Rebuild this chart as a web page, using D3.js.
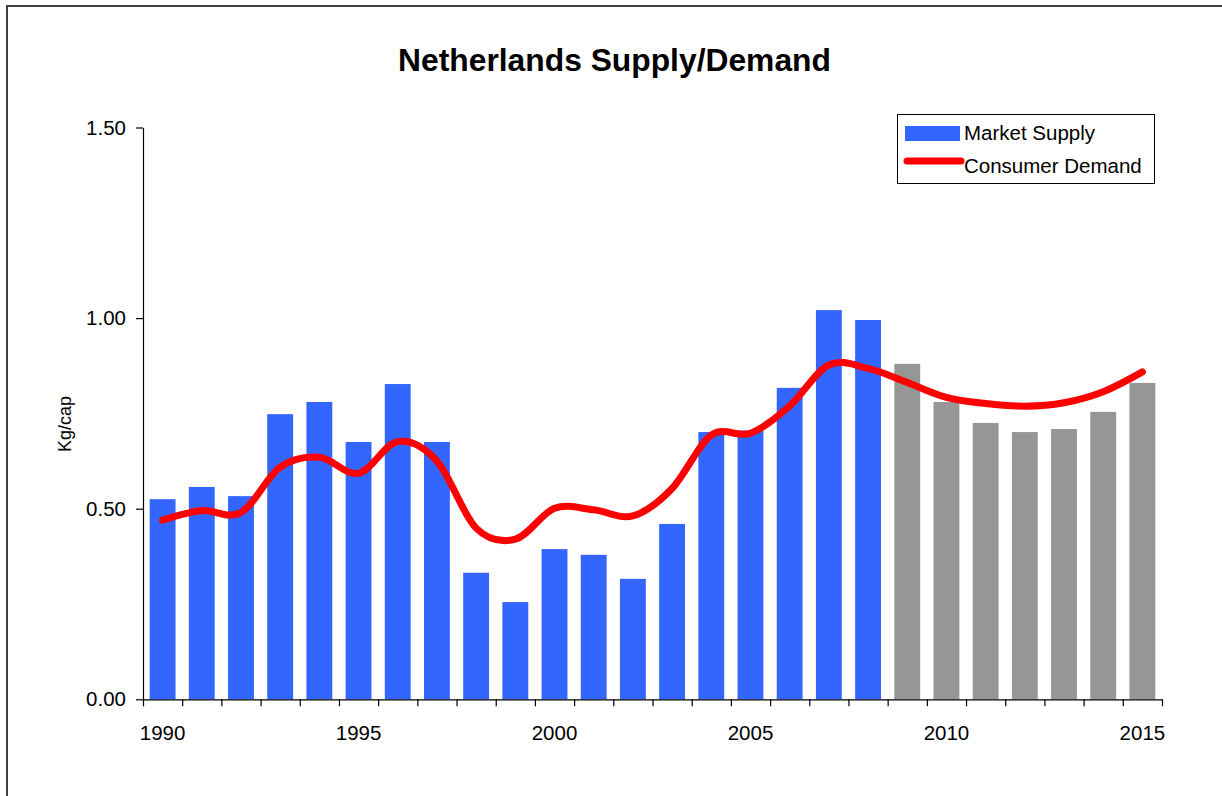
<!DOCTYPE html>
<html>
<head>
<meta charset="utf-8">
<script src="https://cdn.jsdelivr.net/npm/d3@7"></script>
<style>
  html, body { margin: 0; padding: 0; background: #fff; }
  svg { display: block; }
</style>
</head>
<body>
<svg id="chart" width="1222" height="796"></svg>
<script>
// Years on the category axis
const years = [1990, 1991, 1992, 1993, 1994, 1995, 1996, 1997, 1998, 1999, 2000, 2001, 2002,
               2003, 2004, 2005, 2006, 2007, 2008, 2009, 2010, 2011, 2012, 2013, 2014, 2015];

// Market supply (Kg/cap), one bar per year
const marketSupply = [0.525, 0.557, 0.533, 0.748, 0.780, 0.675, 0.827, 0.675, 0.332, 0.255,
                      0.394, 0.379, 0.316, 0.460, 0.701, 0.705, 0.817, 1.021, 0.995, 0.880,
                      0.780, 0.725, 0.701, 0.709, 0.754, 0.830];

// Consumer demand (Kg/cap), drawn as a smoothed line
const consumerDemand = [0.470, 0.495, 0.490, 0.609, 0.635, 0.593, 0.676, 0.625, 0.449, 0.420,
                        0.501, 0.497, 0.481, 0.553, 0.693, 0.698, 0.770, 0.877, 0.868, 0.831,
                        0.792, 0.776, 0.769, 0.778, 0.807, 0.859];

// Bars from this year onwards are projections
const firstProjectedYear = 2009;

// Axis ticks
const yTicks = [0, 0.5, 1.0, 1.5];
const xLabelYears = [1990, 1995, 2000, 2005, 2010, 2015];

const seriesNames = ["Market Supply", "Consumer Demand"];
const titleText = "Netherlands Supply/Demand";
const yAxisTitle = "Kg/cap";

const COLORS = { supply: "#3366FF", projected: "#969696", demand: "#FF0000" };
const FONT = "'Liberation Sans', Arial, sans-serif";

const svg = d3.select("#chart");

// Outer chart frame
svg.append("rect")
  .attr("x", 7).attr("y", 6)
  .attr("width", 1240).attr("height", 820)
  .attr("fill", "#fff")
  .attr("stroke", "#404040")
  .attr("stroke-width", 2);

const plot = { left: 143, right: 1162, top: 127.5, bottom: 699.3 };

const x = d3.scaleBand()
  .domain(years)
  .range([plot.left, plot.right])
  .paddingInner(0.34)
  .paddingOuter(0.17);

// Linear scale spanning the category boundaries (for tick marks)
const xEdge = d3.scaleLinear()
  .domain([years[0] - 0.5, years[years.length - 1] + 0.5])
  .range([plot.left, plot.right]);

const y = d3.scaleLinear()
  .domain([0, 1.5])
  .range([plot.bottom, plot.top]);

// Title
svg.append("text")
  .attr("x", 614.5).attr("y", 71)
  .attr("text-anchor", "middle")
  .style("font-family", FONT)
  .style("font-weight", "bold")
  .style("font-size", "31.8px")
  .attr("fill", "#000")
  .text(titleText);

// Bars
svg.append("g")
  .selectAll("rect")
  .data(years.map((yr, i) => ({ year: yr, value: marketSupply[i] })))
  .join("rect")
  .attr("x", d => x(d.year))
  .attr("width", x.bandwidth())
  .attr("y", d => y(d.value))
  .attr("height", d => y(0) - y(d.value))
  .attr("fill", d => d.year >= firstProjectedYear ? COLORS.projected : COLORS.supply);

// Demand line
const line = d3.line()
  .x((d, i) => x(years[i]) + x.bandwidth() / 2)
  .y(d => y(d))
  .curve(d3.curveCatmullRom.alpha(0));

svg.append("path")
  .datum(consumerDemand)
  .attr("d", line)
  .attr("fill", "none")
  .attr("stroke", COLORS.demand)
  .attr("stroke-width", 7)
  .attr("stroke-linecap", "round")
  .attr("stroke-linejoin", "round");

// Y axis
const yAxis = svg.append("g")
  .attr("transform", `translate(${plot.left},0)`)
  .call(d3.axisLeft(y)
    .tickValues(yTicks)
    .tickFormat(d3.format(".2f"))
    .tickSize(7)
    .tickSizeOuter(0)
    .tickPadding(10));

// X axis: tick marks on category boundaries
const xAxisMarks = svg.append("g")
  .attr("transform", `translate(0,${plot.bottom})`)
  .call(d3.axisBottom(xEdge)
    .tickValues(d3.range(years[0] - 0.5, years[years.length - 1] + 1, 1))
    .tickFormat("")
    .tickSize(7)
    .tickSizeOuter(0));

// X axis: year labels centred under their bars
const xAxisLabels = svg.append("g")
  .attr("transform", `translate(0,${plot.bottom})`)
  .call(d3.axisBottom(x)
    .tickValues(xLabelYears)
    .tickSize(0)
    .tickPadding(26));
xAxisLabels.select(".domain").remove();

[yAxis, xAxisMarks, xAxisLabels].forEach(g => {
  g.selectAll("path, line").attr("stroke", "#000").attr("stroke-width", 1.2);
  g.selectAll("text")
    .style("font-family", FONT)
    .style("font-size", "20.5px")
    .attr("fill", "#000");
});

// Y axis title
svg.append("text")
  .attr("transform", "translate(71,424) rotate(-90)")
  .attr("text-anchor", "middle")
  .style("font-family", FONT)
  .style("font-size", "18px")
  .attr("fill", "#000")
  .text(yAxisTitle);

// Legend
const legend = svg.append("g");
legend.append("rect")
  .attr("x", 897.5).attr("y", 114.5)
  .attr("width", 257).attr("height", 69)
  .attr("fill", "#fff")
  .attr("stroke", "#000")
  .attr("stroke-width", 1);
legend.append("rect")
  .attr("x", 905).attr("y", 126)
  .attr("width", 55).attr("height", 15)
  .attr("fill", COLORS.supply);
legend.append("line")
  .attr("x1", 907).attr("x2", 961)
  .attr("y1", 161).attr("y2", 161)
  .attr("stroke", COLORS.demand)
  .attr("stroke-width", 7)
  .attr("stroke-linecap", "round");
legend.selectAll("text.lbl")
  .data(seriesNames)
  .join("text")
  .attr("class", "lbl")
  .attr("x", 964)
  .attr("y", (d, i) => 140 + i * 33)
  .style("font-family", FONT)
  .style("font-size", "20.5px")
  .attr("fill", "#000")
  .text(d => d);
</script>
</body>
</html>
